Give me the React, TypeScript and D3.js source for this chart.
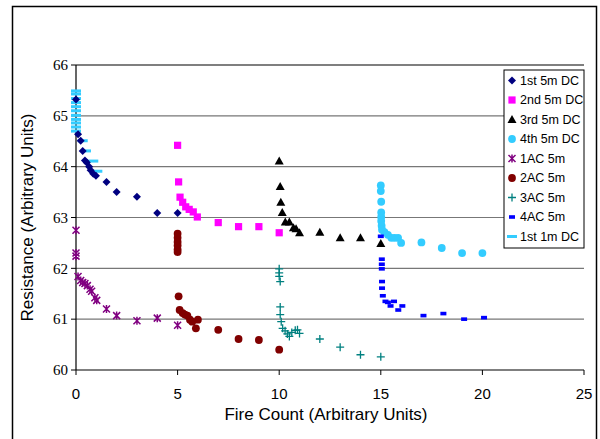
import React from "react";
import * as d3 from "d3";

// [fire count, resistance]
const dc1 = [[0,65.32],[0.1,64.64],[0.23,64.51],[0.33,64.31],[0.44,64.12],[0.53,64.08],[0.65,64.0],[0.72,63.93],[0.85,63.86],[0.98,63.82],[1.5,63.7],[2,63.5],[3,63.41],[4,63.09],[5,63.09]];
const dc2 = [[5,64.42],[5.05,63.7],[5.12,63.4],[5.25,63.3],[5.4,63.21],[5.57,63.16],[5.77,63.11],[5.97,63.01],[7,62.9],[8,62.82],[9,62.82],[10,62.7]];
const dc3 = [[10,64.11],[10.05,63.61],[10.08,63.3],[10.15,63.1],[10.3,62.91],[10.5,62.91],[10.7,62.8],[10.83,62.78],[11,62.7],[12,62.71],[13,62.6],[14,62.6],[15,62.49]];
const dc4 = [[15,63.63],[15,63.52],[15.02,63.31],[15.02,63.1],[15.02,63.01],[15.02,62.93],[15.04,62.84],[15.06,62.76],[15.18,62.71],[15.35,62.66],[15.52,62.6],[15.68,62.6],[15.85,62.6],[16,62.5],[17,62.51],[18,62.4],[19,62.3],[20,62.3]];
const ac1 = [[0,62.75],[0,62.3],[0,62.24],[0.1,61.84],[0.23,61.76],[0.33,61.72],[0.44,61.7],[0.56,61.66],[0.69,61.59],[0.77,61.55],[0.93,61.42],[1.02,61.37],[1.5,61.2],[2,61.07],[3,60.97],[4,61.02],[5,60.88]];
const ac2 = [[5,62.68],[5,62.6],[5,62.52],[5,62.45],[5,62.37],[5,62.32],[5.05,61.45],[5.1,61.18],[5.25,61.12],[5.36,61.09],[5.48,61.07],[5.61,60.99],[5.72,60.95],[5.9,60.82],[6,60.99],[7,60.79],[8,60.61],[9,60.59],[10,60.4]];
const ac3 = [[10,61.99],[10,61.91],[10,61.84],[10.05,61.74],[10.05,61.24],[10.05,61.09],[10.1,60.95],[10.17,60.82],[10.29,60.77],[10.4,60.71],[10.5,60.66],[10.62,60.74],[10.79,60.78],[10.9,60.79],[11,60.72],[12,60.61],[13,60.45],[14,60.3],[15,60.26]];
const ac4 = [[15,62.63],[15.05,62.18],[15.05,62.08],[15.05,61.99],[15.06,61.74],[15.06,61.61],[15.1,61.46],[15.23,61.35],[15.35,61.33],[15.48,61.26],[15.65,61.35],[15.86,61.18],[16.06,61.26],[17.1,61.07],[18.08,61.11],[19.1,61.0],[20.08,61.03]];
const dc1m = [[0,65.49],[0,65.43],[0,65.34],[0,65.26],[0,65.18],[0,65.1],[0,65.01],[0,64.93],[0,64.86],[0,64.78],[0,64.7],[0.33,64.51],[0.49,64.31],[0.85,64.11],[1.05,63.91]];

const xTicks = [0, 5, 10, 15, 20, 25];
const yTicks = [60, 61, 62, 63, 64, 65, 66];

const series = [
  { name: "1st 5m DC", data: dc1, kind: "diamond", color: "#000080" },
  { name: "2nd 5m DC", data: dc2, kind: "square", color: "#FF00FF" },
  { name: "3rd 5m DC", data: dc3, kind: "triangle", color: "#000000" },
  { name: "4th 5m DC", data: dc4, kind: "circle", color: "#33CCFF" },
  { name: "1AC 5m", data: ac1, kind: "star", color: "#800080" },
  { name: "2AC 5m", data: ac2, kind: "circle", color: "#800000" },
  { name: "3AC 5m", data: ac3, kind: "plus", color: "#008080" },
  { name: "4AC 5m", data: ac4, kind: "dash", color: "#0000FF" },
  { name: "1st 1m DC", data: dc1m, kind: "longdash", color: "#33CCFF" },
];

const Marker = ({ kind, color }: { kind: string; color: string }) => {
  switch (kind) {
    case "diamond":
      return <path d="M0,-4L4,0L0,4L-4,0Z" fill={color} />;
    case "square":
      return <rect x={-3.6} y={-3.6} width={7.2} height={7.2} fill={color} />;
    case "triangle":
      return <path d="M0,-4.5L4.5,3.5L-4.5,3.5Z" fill={color} />;
    case "circle":
      return <circle r={3.9} fill={color} />;
    case "star":
      return (
        <path d="M-3.5,-3.5L3.5,3.5M-3.5,3.5L3.5,-3.5M0,-4L0,4" stroke={color} strokeWidth={1.5} fill="none" />
      );
    case "plus":
      return <path d="M-4,0L4,0M0,-4L0,4" stroke={color} strokeWidth={1.3} fill="none" />;
    case "dash":
      return <rect x={-3} y={-1.8} width={6} height={3.6} fill={color} />;
    case "longdash":
      return <rect x={-5} y={-1.5} width={10} height={3} fill={color} />;
    default:
      return null;
  }
};

export default function App() {
  const left = 76, right = 584, top = 65, bottom = 370;
  const x = d3.scaleLinear().domain([0, 25]).range([left, right]);
  const y = d3.scaleLinear().domain([60, 66]).range([bottom, top]);

  // draw the 1m dashes underneath the rest
  const drawOrder = [series[8], ...series.slice(0, 8)];

  return (
    <svg width={600} height={439} style={{ position: "absolute", left: 0, top: 0, background: "#fff" }}>
      <rect x={12.5} y={6.5} width={584} height={440} fill="#fff" stroke="#000" strokeWidth={1.5} />
      {yTicks.map((t) => (
        <g key={t}>
          {t > 60 && (
            <line x1={left} x2={right} y1={y(t)} y2={y(t)} stroke={t === 66 ? "#000" : "#777"} strokeWidth={1.2} />
          )}
          <line x1={left - 5} x2={left} y1={y(t)} y2={y(t)} stroke="#000" />
          <text x={68} y={y(t)} dy="0.35em" textAnchor="end" fontFamily="Liberation Serif, serif" fontSize={15}>
            {t}
          </text>
        </g>
      ))}
      {xTicks.map((t) => (
        <g key={t}>
          <line x1={x(t)} x2={x(t)} y1={bottom} y2={bottom + 5} stroke="#000" />
          <text x={x(t)} y={399} textAnchor="middle" fontFamily="Liberation Sans, Arial, sans-serif" fontSize={15}>
            {t}
          </text>
        </g>
      ))}
      <line x1={left} x2={left} y1={top} y2={bottom} stroke="#000" strokeWidth={1.2} />
      <line x1={left} x2={right} y1={bottom} y2={bottom} stroke="#000" strokeWidth={1.2} />

      {drawOrder.map((s) => (
        <g key={s.name}>
          {s.data.map((d, i) => (
            <g key={i} transform={`translate(${x(d[0])},${y(d[1])})`}>
              <Marker kind={s.kind} color={s.color} />
            </g>
          ))}
        </g>
      ))}

      <text x={326} y={420} textAnchor="middle" fontFamily="Liberation Sans, Arial, sans-serif" fontSize={17}>
        Fire Count (Arbitrary Units)
      </text>
      <text
        transform={`translate(33,${(top + bottom) / 2}) rotate(-90)`}
        textAnchor="middle"
        fontFamily="Liberation Sans, Arial, sans-serif"
        fontSize={17}
      >
        Resistance (Arbitrary Units)
      </text>

      <rect x={504} y={70} width={80} height={178} fill="#fff" stroke="#000" />
      {series.map((s, i) => (
        <g key={s.name} transform={`translate(0,${80.5 + i * 19.5})`}>
          <g transform="translate(512,0)">
            <Marker kind={s.kind} color={s.color} />
          </g>
          <text x={520} y={0} dy="0.35em" fontFamily="Liberation Sans, Arial, sans-serif" fontSize={12.5}>
            {s.name}
          </text>
        </g>
      ))}
    </svg>
  );
}
